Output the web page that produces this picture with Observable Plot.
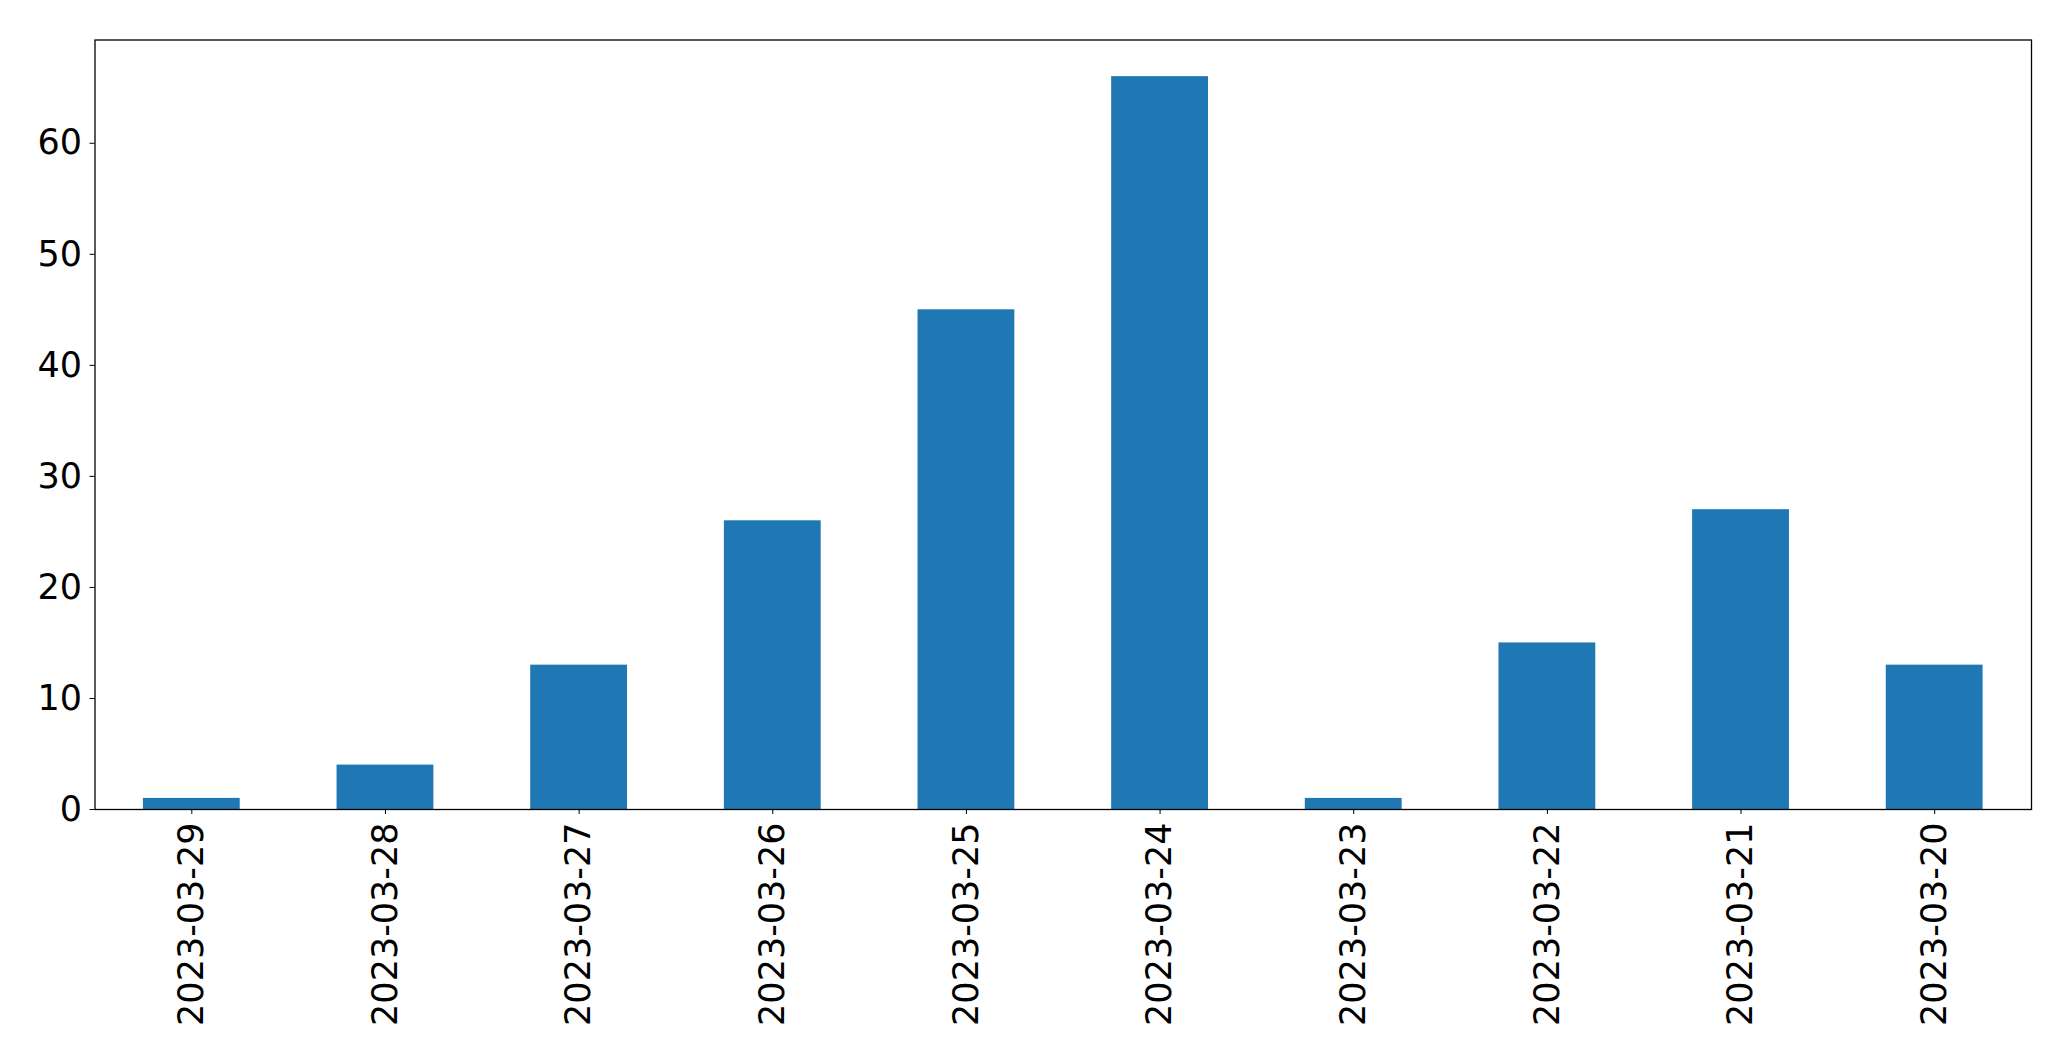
<!DOCTYPE html>
<html>
<head>
<meta charset="utf-8">
<script src="https://cdn.jsdelivr.net/npm/d3@7"></script>
<script src="https://cdn.jsdelivr.net/npm/@observablehq/plot@0.6"></script>
<style>
  html, body { margin: 0; padding: 0; background: #fff; }
  #chart svg { display: block; }
</style>
</head>
<body>
<div id="chart"></div>
<script>
const dates = ["2023-03-29","2023-03-28","2023-03-27","2023-03-26","2023-03-25","2023-03-24","2023-03-23","2023-03-22","2023-03-21","2023-03-20"];
const counts = [1, 4, 13, 26, 45, 66, 1, 15, 27, 13];
const yTicks = [0, 10, 20, 30, 40, 50, 60];

const data = dates.map((d, i) => ({date: d, count: counts[i]}));

const chart = Plot.plot({
  width: 2071,
  height: 1061,
  marginLeft: 94.5,
  marginRight: 40,
  marginTop: 39.5,
  marginBottom: 252,
  style: {fontFamily: "DejaVu Sans", fontSize: "35px", color: "black", background: "white"},
  x: {domain: dates, paddingInner: 0.5, paddingOuter: 0.25, round: false, label: null},
  y: {domain: [0, 69.3], label: null},
  marks: [
    Plot.barY(data, {x: "date", y: "count", fill: "#1f77b4"}),
    Plot.frame({stroke: "black", strokeWidth: 1.3}),
    Plot.axisY({ticks: yTicks, tickSize: 5, tickPadding: 8, fontSize: 35, label: null}),
    Plot.axisX({tickSize: 5, tickPadding: 8, tickRotate: -90, fontSize: 35, label: null})
  ]
});
document.getElementById("chart").appendChild(chart);
</script>
</body>
</html>
